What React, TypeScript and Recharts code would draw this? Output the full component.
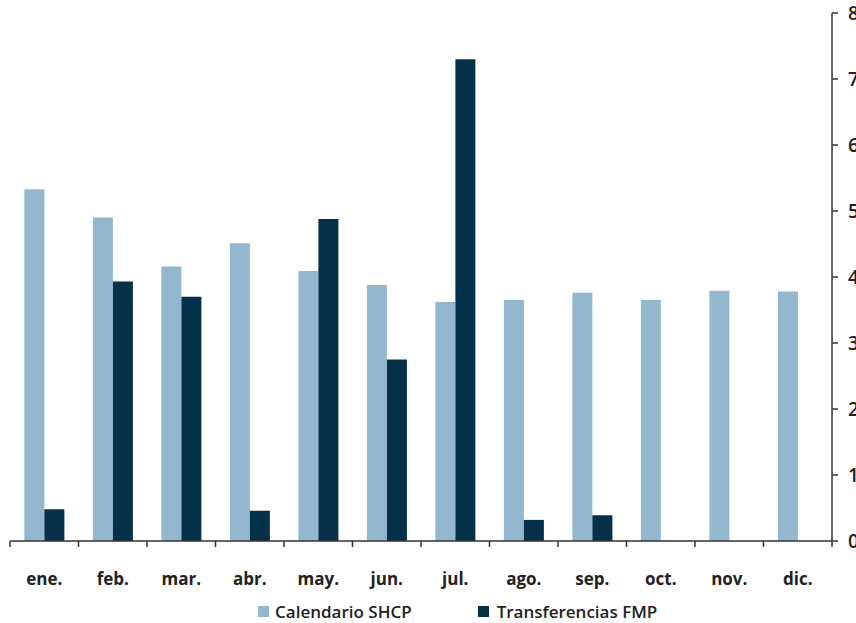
import React from "react";
import { BarChart, Bar, XAxis, YAxis, Legend } from "recharts";

const months = ["ene.", "feb.", "mar.", "abr.", "may.", "jun.", "jul.", "ago.", "sep.", "oct.", "nov.", "dic."];
const calendarioSHCP = [5.33, 4.9, 4.16, 4.51, 4.09, 3.88, 3.62, 3.65, 3.76, 3.65, 3.79, 3.78];
const transferenciasFMP: (number | null)[] = [0.48, 3.93, 3.7, 0.46, 4.88, 2.75, 7.3, 0.32, 0.39, null, null, null];
const yTicks = [0, 1, 2, 3, 4, 5, 6, 7, 8];

const LIGHT = "#93B7CF";
const DARK = "#05304A";
const AXIS = "#333333";
const TEXT = "#222222";
const FONT = "'Open Sans', 'Noto Sans', sans-serif";

const data = months.map((m, i) => ({
  month: m,
  shcp: calendarioSHCP[i],
  fmp: transferenciasFMP[i],
}));

const MonthTick = (props: any) => {
  const { x, y, payload, index, visibleTicksCount, width } = props;
  const count = visibleTicksCount || months.length;
  const half = typeof width === "number" && width > 0 ? width / count / 2 : 34.25;
  const axisY = y;
  return (
    <g>
      <line x1={x - half} x2={x - half} y1={axisY} y2={axisY + 6} stroke={AXIS} strokeWidth={1.5} />
      {index === count - 1 && (
        <line x1={x + half} x2={x + half} y1={axisY} y2={axisY + 6} stroke={AXIS} strokeWidth={1.5} />
      )}
      <text x={x} y={axisY + 44} textAnchor="middle" fill={TEXT} fontFamily={FONT} fontWeight={700} fontSize={17}>
        {payload.value}
      </text>
    </g>
  );
};

const LegendContent = () => (
  <div style={{ display: "flex", alignItems: "center", fontFamily: FONT, fontWeight: 600, fontSize: 17, color: TEXT, paddingLeft: 258 }}>
    <span style={{ display: "inline-block", width: 11, height: 11, background: LIGHT, marginRight: 6 }} />
    <span>Calendario SHCP</span>
    <span style={{ display: "inline-block", width: 11, height: 11, background: DARK, marginLeft: 66, marginRight: 8 }} />
    <span>Transferencias FMP</span>
  </div>
);

export default function App() {
  return (
    <div style={{ position: "absolute", left: 0, top: 0 }}>
      <BarChart
        width={856}
        height={623}
        data={data}
        margin={{ top: 13, right: 0, bottom: 0, left: 10 }}
        barCategoryGap="21%"
        barGap={0}
      >
        <XAxis
          dataKey="month"
          height={82}
          axisLine={{ stroke: AXIS, strokeWidth: 1.5 }}
          tickLine={false}
          tickSize={0}
          tickMargin={0}
          interval={0}
          tick={MonthTick}
        />
        <YAxis
          orientation="right"
          width={24}
          domain={[0, 8]}
          ticks={yTicks}
          interval={0}
          tickSize={6}
          tickMargin={10}
          axisLine={{ stroke: AXIS, strokeWidth: 1.5 }}
          tickLine={{ stroke: AXIS, strokeWidth: 1.5 }}
          tick={{ fill: TEXT, fontFamily: FONT, fontWeight: 600, fontSize: 19 }}
        />
        <Legend
          layout="vertical"
          align="center"
          verticalAlign="middle"
          wrapperStyle={{ top: 600, left: 0, width: 856 }}
          content={LegendContent}
        />
        <Bar dataKey="shcp" name="Calendario SHCP" fill={LIGHT} isAnimationActive={false} />
        <Bar dataKey="fmp" name="Transferencias FMP" fill={DARK} isAnimationActive={false} />
      </BarChart>
    </div>
  );
}
